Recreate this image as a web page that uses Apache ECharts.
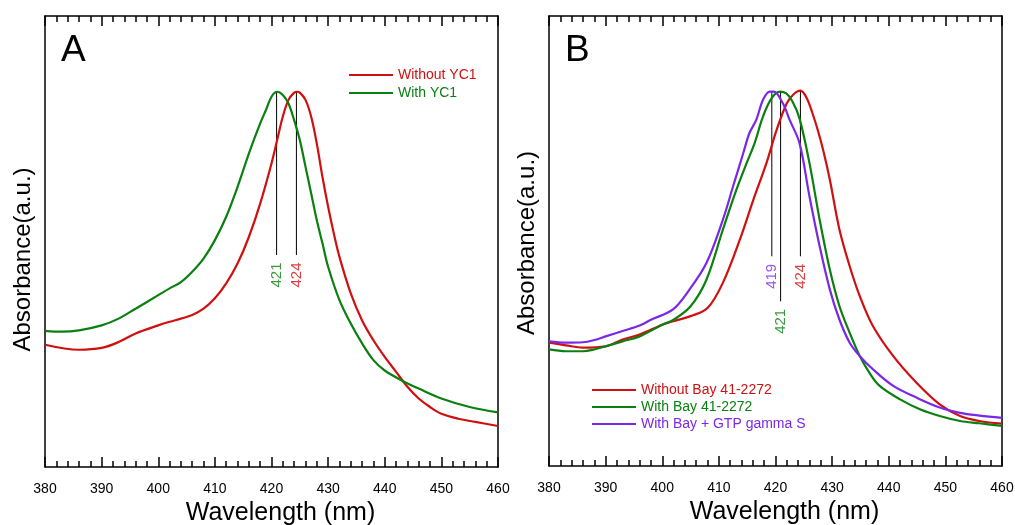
<!DOCTYPE html>
<html>
<head>
<meta charset="utf-8">
<script src="https://cdn.jsdelivr.net/npm/echarts@6/dist/echarts.min.js"></script>
<style>
html,body{margin:0;padding:0;background:#fff;}
#chart{width:1015px;height:525px;}
</style>
</head>
<body>
<div id="chart"></div>
<script>
// ---- Data (wavelength nm, absorbance a.u.) ----
const xTicks = [380, 390, 400, 410, 420, 430, 440, 450, 460];

// Panel A
const aWithoutX = [380,386,390,393,396,400,402,404,406,408,410,412,414,416,418,420,421,422,423,424,424.5,425,426,427,428,429,430,431,432,434,436,438,440,442,444,446,448,450,453,456,460];
const aWithoutY = [0.271,0.260,0.264,0.277,0.296,0.314,0.322,0.329,0.337,0.351,0.374,0.407,0.451,0.510,0.584,0.673,0.725,0.777,0.814,0.830,0.832,0.830,0.814,0.777,0.717,0.643,0.577,0.518,0.466,0.385,0.325,0.281,0.244,0.211,0.178,0.152,0.133,0.118,0.107,0.100,0.091];
const aWithX = [380,383,386,390,393,396,400,402,404,406,408,410,412,414,416,418,419,420,421,422,423,424,425,426,427,428,429,430,432,434,436,438,440,443,446,450,455,460];
const aWithY = [0.302,0.300,0.303,0.314,0.329,0.351,0.381,0.396,0.410,0.433,0.462,0.503,0.555,0.621,0.695,0.762,0.791,0.821,0.832,0.825,0.806,0.769,0.725,0.666,0.607,0.547,0.496,0.444,0.370,0.318,0.274,0.237,0.214,0.192,0.174,0.152,0.133,0.121];

// Panel B
const bWithoutX = [380,383,386,390,393,396,400,402,405,408,410.7,413.7,416.1,418.4,420.2,422,423.2,424.4,425.5,426.5,427.5,428.5,429.6,431.3,433.1,434.9,437.2,440.8,444.9,449,452.6,456,460];
const bWithoutY = [0.274,0.268,0.263,0.266,0.281,0.292,0.314,0.322,0.333,0.351,0.407,0.503,0.592,0.673,0.747,0.806,0.826,0.834,0.818,0.785,0.745,0.698,0.636,0.525,0.444,0.377,0.311,0.244,0.185,0.137,0.111,0.100,0.094];
const bWithX = [380,383,386,388,390,393,396,400,402,405,407.8,410.7,413.1,414.9,416.3,417.8,419.3,420.8,421.9,423,424.25,426,427.8,429.6,431.3,433.1,434.9,436.6,438.4,442,445.5,449,452.6,456,460];
const bWithY = [0.259,0.255,0.255,0.259,0.266,0.277,0.288,0.314,0.325,0.355,0.414,0.525,0.614,0.673,0.717,0.777,0.817,0.832,0.828,0.810,0.772,0.673,0.547,0.436,0.355,0.296,0.244,0.207,0.178,0.148,0.126,0.111,0.100,0.095,0.089];
const bGtpX = [380,383,386,388,390,393,396,398,401.9,404.8,407.8,410.7,412.5,414.3,415.4,416.6,417.8,419,419.7,421.3,422.5,424.25,426,427.8,429.6,431.3,433.1,434.9,437.2,440.8,444.9,449,452.6,456,460];
const bGtpY = [0.277,0.274,0.275,0.280,0.288,0.300,0.312,0.325,0.348,0.392,0.451,0.547,0.621,0.695,0.740,0.769,0.814,0.832,0.832,0.806,0.769,0.717,0.599,0.488,0.392,0.325,0.274,0.244,0.215,0.178,0.152,0.130,0.118,0.112,0.107];

// Peak markers: line x position, label text, top and bottom of marker line
const aPeakX = [420.9, 424.4];
const aPeakLabel = ['421', '424'];
const aPeakTop = [0.832, 0.832];
const aPeakBottom = [0.470, 0.470];
const bPeakX = [419.35, 420.9, 424.4];
const bPeakLabel = ['419', '421', '424'];
const bPeakTop = [0.832, 0.832, 0.834];
const bPeakBottom = [0.466, 0.366, 0.466];

const seriesNamesA = ['Without YC1', 'With YC1'];
const seriesNamesB = ['Without Bay 41-2272', 'With Bay 41-2272', 'With Bay + GTP gamma S'];
const RED = '#d01010', GREEN = '#0a8010', PURPLE = '#7a28e8';

// ---- Build ----
const FONT = 'Liberation Sans, Arial, sans-serif';
const zip = (xs, ys) => xs.map((x, i) => [x, ys[i]]);

function curve(name, xs, ys, color, idx) {
  return {
    name, type: 'line', xAxisIndex: idx * 2, yAxisIndex: idx * 2,
    data: zip(xs, ys), smooth: 0.35, showSymbol: false, symbol: 'none',
    lineStyle: { color, width: 2.2 }, itemStyle: { color }, silent: true, z: 3
  };
}
function marker(x, top, bottom, text, color, idx) {
  return [{
    type: 'line', xAxisIndex: idx * 2, yAxisIndex: idx * 2, silent: true,
    data: [[x, top], [x, bottom]], symbol: 'none',
    lineStyle: { color: '#000', width: 1 }, z: 2
  }, {
    type: 'scatter', xAxisIndex: idx * 2, yAxisIndex: idx * 2, silent: true,
    data: [[x, bottom]], symbolSize: 1, itemStyle: { color: 'rgba(0,0,0,0)' },
    label: {
      show: true, formatter: text, position: 'bottom', distance: 7,
      rotate: 90, align: 'right', verticalAlign: 'middle',
      color, fontSize: 15, fontFamily: FONT
    }, z: 4
  }];
}

function xAxes(idx) {
  const common = {
    type: 'value', gridIndex: idx, min: 380, max: 460, interval: 10,
    axisLine: { show: true, onZero: false, lineStyle: { color: '#000', width: 1.5 } },
    axisTick: { show: true, inside: true, length: 10, lineStyle: { color: '#000', width: 1.5 } },
    minorTick: { show: true, splitNumber: 5, length: 6, lineStyle: { color: '#000', width: 1.5 } },
    splitLine: { show: false }, minorSplitLine: { show: false }
  };
  return [
    Object.assign({}, common, {
      position: 'bottom',
      axisLabel: { show: true, fontSize: 14, color: '#000', fontFamily: FONT, margin: 15,
        formatter: v => xTicks.includes(v) ? String(v) : '' },
      name: 'Wavelength (nm)', nameLocation: 'middle', nameGap: 31,
      nameTextStyle: { fontSize: 25, color: '#000', fontFamily: FONT, padding: [0, 0, 0, 18] }
    }),
    Object.assign({}, common, { position: 'top', axisLabel: { show: false } })
  ];
}
function yAxes(idx, pad) {
  return [{
    type: 'value', gridIndex: idx, min: 0, max: 1, position: 'left',
    axisLine: { show: true, onZero: false, lineStyle: { color: '#000', width: 1.5 } },
    axisTick: { show: false }, axisLabel: { show: false }, splitLine: { show: false },
    name: 'Absorbance(a.u.)', nameLocation: 'middle', nameRotate: 90, nameGap: 10,
    nameTextStyle: { fontSize: 24, color: '#000', fontFamily: FONT, padding: pad }
  }, {
    type: 'value', gridIndex: idx, min: 0, max: 1, position: 'right',
    axisLine: { show: true, onZero: false, lineStyle: { color: '#000', width: 1.5 } },
    axisTick: { show: false }, axisLabel: { show: false }, splitLine: { show: false }
  }];
}

const series = [
  curve(seriesNamesA[0], aWithoutX, aWithoutY, RED, 0),
  curve(seriesNamesA[1], aWithX, aWithY, GREEN, 0),
  curve(seriesNamesB[0], bWithoutX, bWithoutY, RED, 1),
  curve(seriesNamesB[1], bWithX, bWithY, GREEN, 1),
  curve(seriesNamesB[2], bGtpX, bGtpY, PURPLE, 1)
];
const aColors = [GREEN, RED];
aPeakX.forEach((x, i) => series.push(...marker(x, aPeakTop[i], aPeakBottom[i], aPeakLabel[i], aColors[i], 0)));
const bColors = [PURPLE, GREEN, RED];
bPeakX.forEach((x, i) => series.push(...marker(x, bPeakTop[i], bPeakBottom[i], bPeakLabel[i], bColors[i], 1)));

function legend(names, colors, left, top, gap) {
  return {
    orient: 'vertical', left, top, icon: 'rect', itemWidth: 44, itemHeight: 2, itemGap: gap,
    selectedMode: false,
    textStyle: { fontSize: 14, fontFamily: FONT, padding: [0, 0, 0, 0] },
    data: names.map((n, i) => ({ name: n, textStyle: { color: colors[i] } }))
  };
}

const chart = echarts.init(document.getElementById('chart'), null, { renderer: 'canvas' });
chart.setOption({
  animation: false,
  backgroundColor: '#fff',
  grid: [
    { left: 45, top: 16, width: 453, height: 451, outerBoundsMode: 'none', containLabel: false },
    { left: 549, top: 16, width: 453, height: 450, outerBoundsMode: 'none', containLabel: false }
  ],
  xAxis: [...xAxes(0), ...xAxes(1)],
  yAxis: [...yAxes(0, [0, 36, 0, 0]), ...yAxes(1, [0, 4, 0, 0])],
  legend: [
    legend(seriesNamesA, [RED, GREEN], 344, 63, 4),
    legend(seriesNamesB, [RED, GREEN, PURPLE], 587, 378, 3)
  ],
  graphic: [
    { type: 'text', left: 61, top: 32, style: { text: 'A', fontSize: 37, fontFamily: FONT, fill: '#000' } },
    { type: 'text', left: 565, top: 32, style: { text: 'B', fontSize: 37, fontFamily: FONT, fill: '#000' } }
  ],
  series
});
</script>
</body>
</html>
